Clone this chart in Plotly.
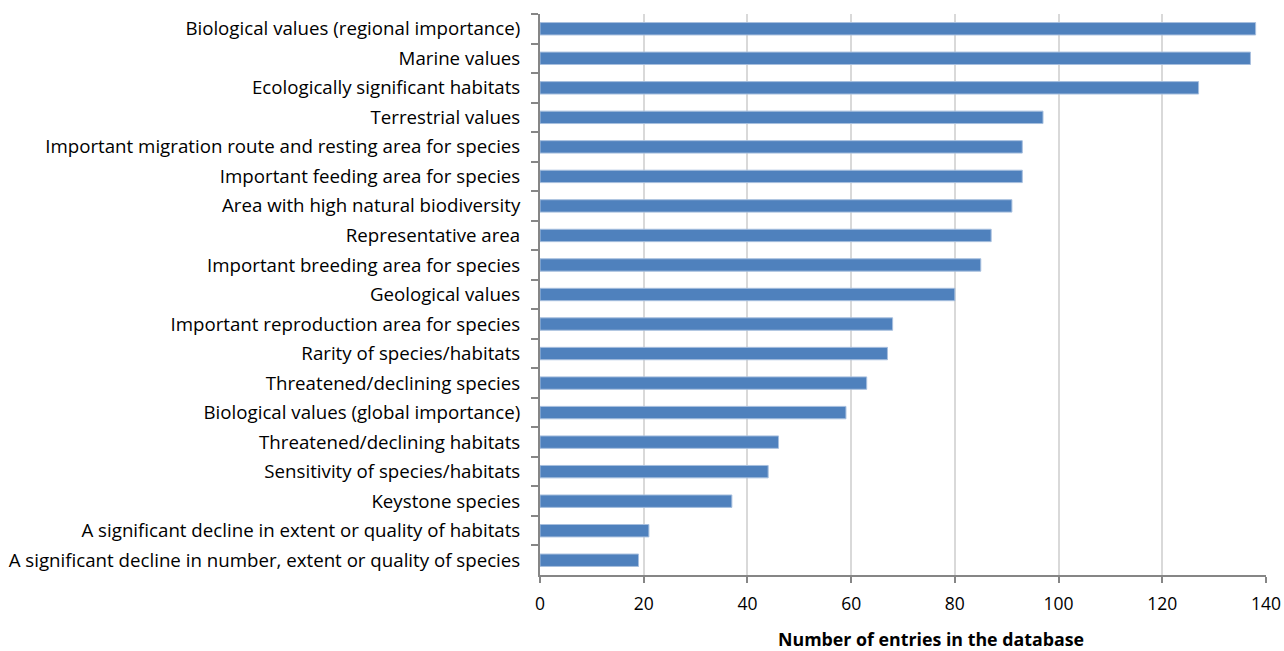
import plotly.graph_objects as go

categories = [
    "Biological values (regional importance)",
    "Marine values",
    "Ecologically significant habitats",
    "Terrestrial values",
    "Important migration route and resting area for species",
    "Important feeding area for species",
    "Area with high natural biodiversity",
    "Representative area",
    "Important breeding area for species",
    "Geological values",
    "Important reproduction area for species",
    "Rarity of species/habitats",
    "Threatened/declining species",
    "Biological values (global importance)",
    "Threatened/declining habitats",
    "Sensitivity of species/habitats",
    "Keystone species",
    "A significant decline in extent or quality of habitats",
    "A significant decline in number, extent or quality of species",
]
values = [138, 137, 127, 97, 93, 93, 91, 87, 85, 80, 68, 67, 63, 59, 46, 44, 37, 21, 19]
x_ticks = [0, 20, 40, 60, 80, 100, 120, 140]
x_title = "Number of entries in the database"

fig = go.Figure(go.Bar(
    x=values, y=categories, orientation="h",
    marker=dict(color="#4F81BD", line=dict(color="#a7bfde", width=1)),
))

font_family = "Open Sans, sans-serif"
fig.update_layout(
    width=1284, height=651,
    margin=dict(l=540, r=18, t=14, b=76),
    paper_bgcolor="white", plot_bgcolor="white",
    bargap=0.58,
    showlegend=False,
    font=dict(family=font_family, size=17, color="#000000"),
    annotations=[dict(
        text="<b>" + x_title + "</b>", xref="paper", yref="paper",
        x=0.5386, y=-0.1135, xanchor="center", yanchor="middle",
        showarrow=False, font=dict(size=17.8),
    )],
)
fig.update_xaxes(
    range=[0, 140], tickvals=x_ticks, ticktext=[str(v) for v in x_ticks],
    showgrid=True, gridcolor="#d9d9d9", gridwidth=2,
    showline=True, linecolor="#868686", linewidth=2,
    ticks="outside", ticklen=6, tickcolor="#868686", tickwidth=2,
    zeroline=False, automargin=False,
    tickfont=dict(size=17.5),
    ticklabelstandoff=6,
)
fig.update_yaxes(
    categoryorder="array", categoryarray=categories, autorange="reversed",
    showline=True, linecolor="#868686", linewidth=2,
    ticks="outside", ticklen=7, tickcolor="#868686", tickwidth=2,
    tickson="boundaries", showgrid=False, automargin=False,
    tickfont=dict(size=18.7),
    ticklabelstandoff=14,
)

fig.write_html("out.html")
